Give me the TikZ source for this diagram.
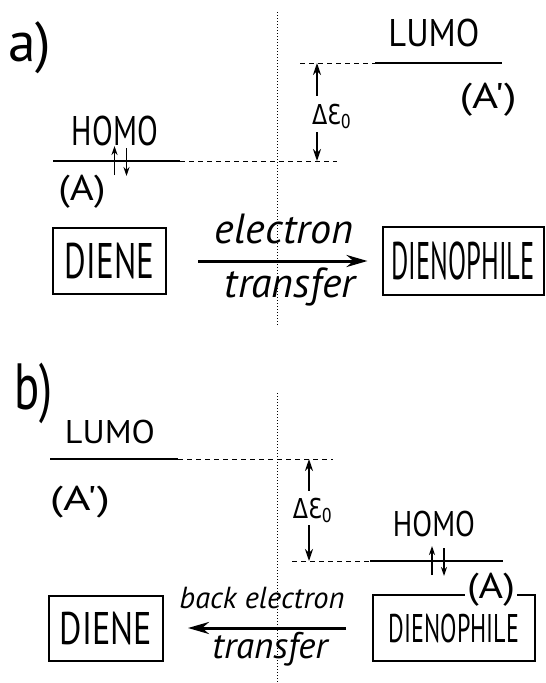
\documentclass[tikz,border=0pt]{standalone}
\usepackage{fontspec}
\usepackage{graphicx}
\usetikzlibrary{arrows.meta}
\newfontfamily\plume{PT Sans}
\newfontfamily\plumeSym{DejaVu Sans}
\newcommand{\Lettres}[3]{\resizebox{#1}{#2}{\raisebox{0pt}[0.7em][0pt]{\plume #3}}}
\newcommand{\Titre}[4]{\resizebox{#1}{#2}{\raisebox{0pt}[#3][0pt]{\plume #4}}}
\newcommand{\Cursive}[2]{\resizebox{#1}{!}{\plume\itshape #2}}
\newcommand{\Ecart}{\resizebox{40pt}{20pt}{\raisebox{0pt}[0.73em][0pt]{\plumeSym ΔƐ\textsubscript{0}}}}
\newcommand{\Spins}[1]{%
  \draw[spin] ([shift={(-6,14)}]#1) -- ++(0,-29);
  \draw[spin] ([shift={(6,-13)}]#1) -- ++(0,28);}
\tikzset{
  niveau/.style={line width=2.8pt},
  tirets/.style={line width=1pt,dash pattern=on 5pt off 4pt},
  axe/.style={line width=1pt,dash pattern=on 1pt off 2pt},
  boite/.style={draw,line width=2pt,inner sep=0pt},
  etiquette/.style={inner sep=0pt},
  transfert/.style={line width=3pt,-{Stealth[length=21pt,width=12pt]}},
  ecart/.style={line width=1.8pt,-{Stealth[length=12pt,width=8pt]}},
  spin/.style={line width=1.8pt,-{Stealth[length=9pt,width=6pt]}}
}

\begin{document}
\begin{tikzpicture}[x=1pt,y=-1pt]
\useasboundingbox (0,0) rectangle (546,683);

\node[etiquette] (titreA) at (30,47) {\Titre{43pt}{28pt}{0.5em}{a)}};
\coordinate (axeA-h) at (277,12);
\coordinate (axeA-b) at (277,325);
\draw[axe] (axeA-h) -- (axeA-b);

\coordinate (lumoA-t) at (300,63);
\coordinate (lumoA-g) at (375,63);
\coordinate (lumoA-d) at (502,63);
\coordinate (homoA-g) at (53,161);
\coordinate (homoA-d) at (180,161);
\coordinate (homoA-t) at (337,161);
\draw[niveau] (lumoA-g) -- (lumoA-d);
\draw[tirets] (lumoA-t) -- (lumoA-g);
\draw[niveau] (homoA-g) -- (homoA-d);
\draw[tirets] (homoA-d) -- (homoA-t);
\coordinate (spinA) at (120.5,161);
\Spins{spinA}

\node[etiquette] (lumoA) at (434,33) {\Lettres{91pt}{27pt}{LUMO}};
\node[etiquette] (aprimeA) at (488,96) {\Lettres{57pt}{25pt}{(A')}};
\node[etiquette] (homoA) at (115,131) {\Lettres{86pt}{29pt}{HOMO}};
\node[etiquette] (aA) at (82,188) {\Lettres{47pt}{25pt}{(A)}};

\coordinate (hautA) at (317,63);
\coordinate (basA) at (317,161);
\node[etiquette] (ecartA) at (332,114) {\Ecart};
\draw[ecart,shorten <=8pt] (hautA |- ecartA.north) -- (hautA);
\draw[ecart,shorten <=8pt] (basA |- ecartA.south) -- (basA);

\node[boite,minimum width=113pt,minimum height=66pt] (dieneA) at (109.5,261) {\Lettres{89pt}{35pt}{DIENE}};
\node[boite,minimum width=161pt,minimum height=68pt] (dienophileA) at (463,261) {\Lettres{143pt}{37pt}{DIENOPHILE}};
\draw[transfert,shorten <=31pt,shorten >=14pt] (dieneA) -- (dienophileA);
\node[etiquette,anchor=base] (electronA) at (284,243) {\Cursive{138pt}{electron}};
\node[etiquette,anchor=base] (transferA) at (290,297) {\Cursive{130pt}{transfer}};

\node[etiquette] (titreB) at (34,386) {\Titre{38pt}{47pt}{0.72em}{b)}};
\coordinate (axeB-h) at (277,393);
\coordinate (axeB-b) at (277,683);
\draw[axe] (axeB-h) -- (axeB-b);

\coordinate (lumoB-g) at (50,459);
\coordinate (lumoB-d) at (178,459);
\coordinate (lumoB-t) at (333,459);
\coordinate (homoB-t) at (292,561);
\coordinate (homoB-g) at (370,561);
\coordinate (homoB-d) at (503,561);
\draw[niveau] (lumoB-g) -- (lumoB-d);
\draw[tirets] (lumoB-d) -- (lumoB-t);
\draw[niveau] (homoB-g) -- (homoB-d);
\draw[tirets] (homoB-t) -- (homoB-g);
\coordinate (spinB) at (438,561);
\Spins{spinB}

\node[etiquette] (lumoB) at (110,432) {\Lettres{90pt}{23pt}{LUMO}};
\node[etiquette] (aprimeB) at (80,498) {\Lettres{60pt}{24pt}{(A')}};
\node[etiquette] (homoB) at (434,524) {\Lettres{82pt}{25pt}{HOMO}};

\coordinate (hautB) at (309,459);
\coordinate (basB) at (309,561);
\node[etiquette] (ecartB) at (313,508) {\Ecart};
\draw[ecart,shorten <=7pt] (hautB |- ecartB.north) -- (hautB);
\draw[ecart,shorten <=7pt] (basB |- ecartB.south) -- (basB);

\node[boite,minimum width=114pt,minimum height=65pt] (dieneB) at (106,628) {\Lettres{92pt}{32pt}{DIENE}};
\node[boite,minimum width=162pt,minimum height=66pt] (dienophileB) at (454,628) {\Lettres{130pt}{28pt}{DIENOPHILE}};
\node[etiquette,fill=white,inner sep=2pt] (aB) at (491,586) {\Lettres{48pt}{25pt}{(A)}};
\draw[transfert,shorten <=26pt,shorten >=24pt] (dienophileB) -- (dieneB);
\node[etiquette,anchor=base] (backB) at (262,608) {\Cursive{165pt}{back electron}};
\node[etiquette,anchor=base] (transferB) at (270,658) {\Cursive{115pt}{transfer}};
\end{tikzpicture}
\end{document}
